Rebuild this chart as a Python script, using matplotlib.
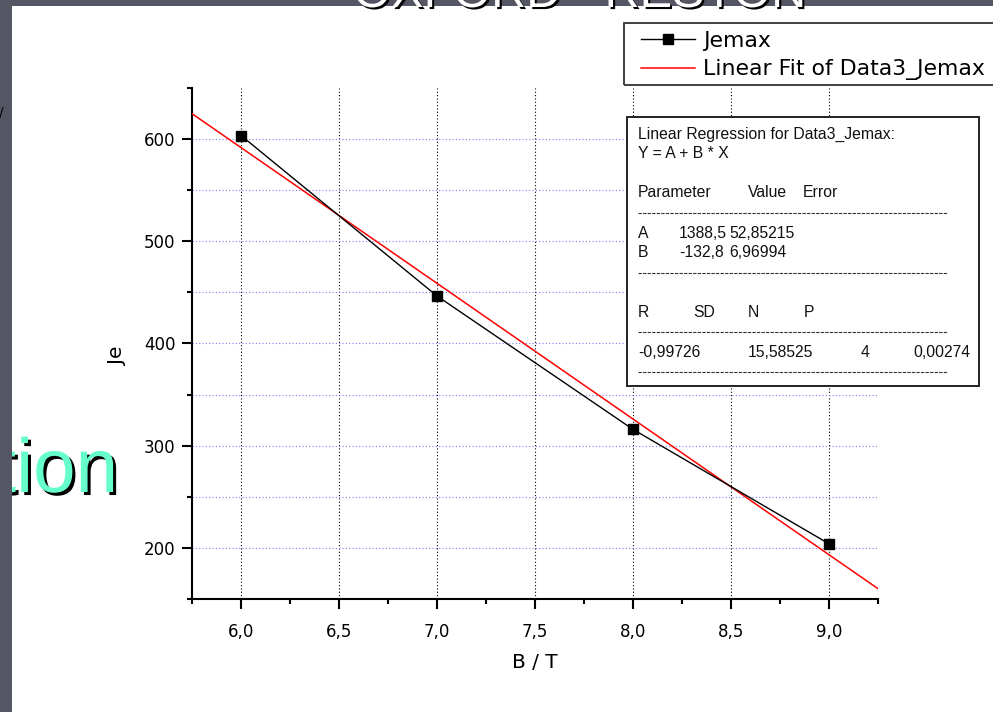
"""Jemax vs B  (Origin-Export nachgebaut, Folien-Ausschnitt)"""
import matplotlib
matplotlib.use("Agg")
import matplotlib.pyplot as plt
import matplotlib.patheffects as pe
from matplotlib.patches import Rectangle
from matplotlib.lines import Line2D
from matplotlib.ticker import MultipleLocator

# ── Daten ────────────────────────────────────────────────
B_FIELD = [6.0, 7.0, 8.0, 9.0]
JE_MAX = [603.5, 446.5, 316.0, 204.0]
FIT_A = 1388.5
FIT_B = -132.8

X_TICKS = [6.0, 6.5, 7.0, 7.5, 8.0, 8.5, 9.0]
X_LABELS = ['6,0', '6,5', '7,0', '7,5', '8,0', '8,5', '9,0']
Y_TICKS = [200, 300, 400, 500, 600]
Y_LABELS = ['200', '300', '400', '500', '600']

LEGEND_LABELS = ['Jemax', 'Linear Fit of Data3_Jemax']
REG_HEAD = ['Linear Regression for Data3_Jemax:', 'Y = A + B * X']
REG_PARAM_COLS = ['Parameter', 'Value', 'Error']
REG_PARAMS = [('A', '1388,5', '52,85215'), ('B', '-132,8', '6,96994')]
REG_STAT_COLS = ['R', 'SD', 'N', 'P']
REG_STATS = ['-0,99726', '15,58525', '4', '0,00274']

# ── Layout-Helfer (Pixel -> Figure-Koordinaten) ──────────
W, H = 993, 712
def fx(px):
    return px / W
def fy(py):
    return 1 - py / H

plt.rcParams['font.family'] = ['DejaVu Sans']
fig = plt.figure(figsize=(W / 100, H / 100), dpi=100, facecolor='white')

ax = fig.add_axes([fx(192), fy(599), fx(878) - fx(192), fy(88) - fy(599)])
ax.set_xlim(5.75, 9.25)
ax.set_ylim(150, 650)
for s in ['top', 'right']:
    ax.spines[s].set_visible(False)
for s in ['left', 'bottom']:
    ax.spines[s].set_linewidth(1.5)

ax.set_xticks(X_TICKS)
ax.set_xticklabels(X_LABELS, fontsize=12)
ax.set_yticks(Y_TICKS)
ax.set_yticklabels(Y_LABELS, fontsize=12)
ax.xaxis.set_minor_locator(MultipleLocator(0.25))
ax.yaxis.set_minor_locator(MultipleLocator(50))
ax.tick_params(axis='x', which='major', length=7, width=1.5, pad=10)
ax.tick_params(axis='y', which='major', length=7, width=1.5, pad=5)
ax.tick_params(which='minor', length=3.6, width=1.5)

# Gitter: vertikal schwarz gepunktet, horizontal blau gepunktet
for xv in X_TICKS:
    ax.axvline(xv, color='black', lw=0.8, ls=(0, (1, 2)), zorder=1)
for yv in range(200, 601, 50):
    ax.axhline(yv, color='#7b7bff', lw=0.8, ls=(0, (1, 2)), zorder=1)

# Fit + Messpunkte
xl = ax.get_xlim()
ax.plot(xl, [FIT_A + FIT_B * xl[0], FIT_A + FIT_B * xl[1]], color='red', lw=1.1, zorder=3)
ax.plot(B_FIELD, JE_MAX, color='black', lw=1.0, marker='s', ms=7, zorder=4)

fig.text(fx(118), fy(356), 'Je', rotation=90, ha='center', va='center', fontsize=14.5)
fig.text(fx(535), fy(662), 'B / T', ha='center', va='center', fontsize=14.5)

# ── Legende ──────────────────────────────────────────────
fig.add_artist(Rectangle((fx(624), fy(85)), fx(1010) - fx(624), fy(23) - fy(85),
                         transform=fig.transFigure, facecolor='none',
                         edgecolor='#333333', lw=1.3))
handles = [Line2D([], [], color='black', lw=1.0, marker='s', ms=7),
           Line2D([], [], color='red', lw=1.1)]
fig.legend(handles, LEGEND_LABELS, loc='upper left',
           bbox_to_anchor=(fx(641), fy(31)), bbox_transform=fig.transFigure,
           frameon=False, borderpad=0, borderaxespad=0, fontsize=15.8,
           handlelength=2.45, handletextpad=0.36, labelspacing=0.38)

# ── Regressions-Box ──────────────────────────────────────
fig.add_artist(Rectangle((fx(627), fy(386)), fx(979) - fx(627), fy(117) - fy(386),
                         transform=fig.transFigure, facecolor='white',
                         edgecolor='#222222', lw=1.4, zorder=5))
RF = dict(fontsize=11.3, family='Liberation Sans', va='baseline', color='#111111', zorder=6)
fig.text(fx(638), fy(139), REG_HEAD[0], **RF)
fig.text(fx(638), fy(158), REG_HEAD[1], **RF)
for t, xp in zip(REG_PARAM_COLS, [638, 748, 803]):
    fig.text(fx(xp), fy(197), t, **RF)
for (p, v, e), yp in zip(REG_PARAMS, [238, 257]):
    fig.text(fx(638), fy(yp), p, **RF)
    fig.text(fx(679), fy(yp), v, **RF)
    fig.text(fx(729), fy(yp), e, **RF)
for t, xp in zip(REG_STAT_COLS, [638, 693, 748, 804]):
    fig.text(fx(xp), fy(317), t, **RF)
for t, xp in zip(REG_STATS, [638, 748, 861, 913]):
    fig.text(fx(xp), fy(357), t, **RF)
for yp in [213, 273, 332, 372]:
    fig.add_artist(Line2D([fx(638), fx(947)], [fy(yp), fy(yp)], transform=fig.transFigure,
                          color='#333333', lw=0.8, ls=(0, (3, 1.1)), zorder=6))

# ── Folienreste ──────────────────────────────────────────
fig.text(fx(118), fy(492), 'tion', ha='right', va='baseline', fontsize=55,
         family='Liberation Sans', color='#66ffcc', zorder=4,
         path_effects=[pe.withSimplePatchShadow(offset=(2.2, -2.2), shadow_rgbFace='black', alpha=1)])
fig.add_artist(Rectangle((0, 0), fx(12), 1, transform=fig.transFigure,
                         facecolor='#545663', edgecolor='none', zorder=8))
fig.add_artist(Rectangle((0, fy(6)), 1, 1 - fy(6), transform=fig.transFigure,
                         facecolor='#545663', edgecolor='none', zorder=8))
fig.text(fx(580), fy(7), 'OXFORD - RESTON', ha='center', va='baseline', fontsize=35,
         family='Liberation Sans', color='white', zorder=9,
         path_effects=[pe.withSimplePatchShadow(offset=(1.5, -1.5), shadow_rgbFace='black', alpha=1)])
fig.text(fx(-1), fy(117), '/', ha='left', va='baseline', fontsize=10, color='black', zorder=9)

plt.savefig('out.png', dpi=100, facecolor='white')
plt.close()
